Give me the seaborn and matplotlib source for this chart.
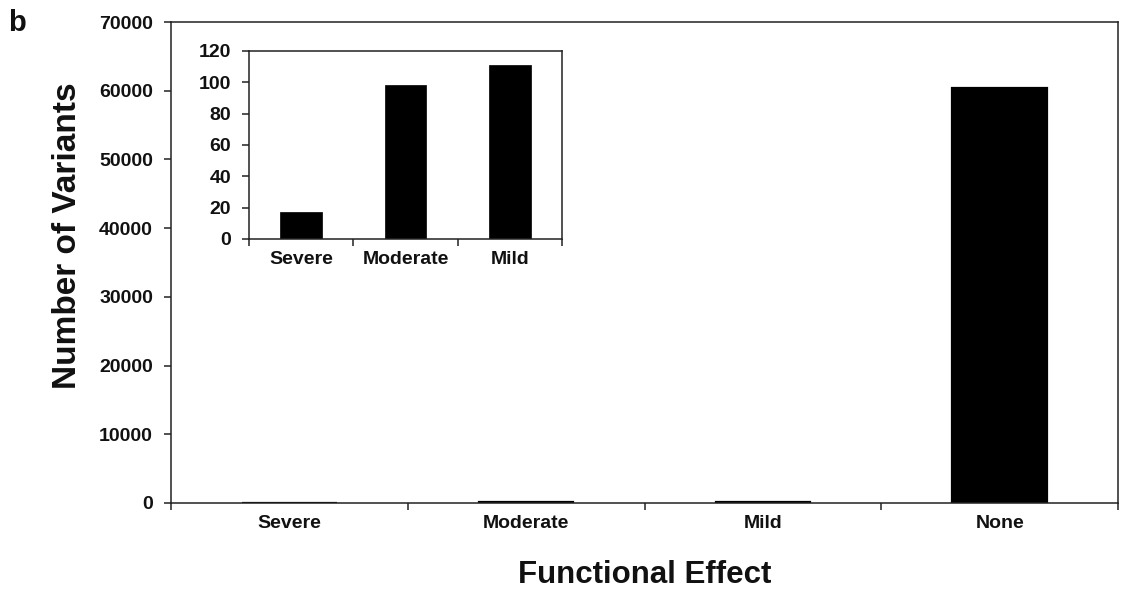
import matplotlib
matplotlib.use("Agg")
import matplotlib.pyplot as plt
import seaborn as sns

# Variant counts by predicted functional effect
categories = ["Severe", "Moderate", "Mild", "None"]
counts = [17, 98, 111, 60400]

# Zoomed view of the three damaging classes
inset_categories = ["Severe", "Moderate", "Mild"]
inset_counts = [17, 98, 111]

main_yticks = [0, 10000, 20000, 30000, 40000, 50000, 60000, 70000]
inset_yticks = [0, 20, 40, 60, 80, 100, 120]

sns.set_theme(style="white")
plt.rcParams["font.family"] = ["Liberation Sans", "DejaVu Sans"]
plt.rcParams["font.weight"] = "bold"

fig = plt.figure(figsize=(11.26, 5.93), dpi=100)
ax = fig.add_axes([0.1519, 0.1518, 0.8410, 0.8111])


def style_axes(a, n, yticks, fs, tick_pad_x, tick_pad_y):
    for s in a.spines.values():
        s.set_visible(True)
        s.set_color("#222222")
        s.set_linewidth(1.1)
    a.set_xlim(-0.5, n - 0.5)
    a.set_ylim(yticks[0], yticks[-1])
    a.set_yticks(yticks)
    a.set_yticklabels([str(v) for v in yticks], fontsize=fs, fontweight="bold")
    a.set_xticks(range(n))
    a.set_xticks([i - 0.5 for i in range(n + 1)], minor=True)
    a.tick_params(axis="x", which="major", length=0, pad=tick_pad_x,
                  labelsize=fs)
    a.tick_params(axis="x", which="minor", length=5, width=1.1,
                  direction="out", color="#222222", bottom=True)
    a.tick_params(axis="y", which="major", length=5, width=1.1,
                  direction="out", color="#222222", pad=tick_pad_y,
                  left=True, labelsize=fs)
    for lbl in a.get_xticklabels() + a.get_yticklabels():
        lbl.set_fontweight("bold")
        lbl.set_color("#111111")


sns.barplot(x=categories, y=counts, color="black", width=0.4,
            saturation=1, edgecolor="black", linewidth=1.6, ax=ax)
style_axes(ax, len(categories), main_yticks, 14, 9, 8)
ax.set_xlabel("Functional Effect", fontsize=22.5, fontweight="bold",
              labelpad=20, color="#111111")
ax.set_ylabel("Number of Variants", fontsize=24, fontweight="bold",
              color="#111111")
ax.yaxis.set_label_coords(-0.093, 0.556)

ins = fig.add_axes([0.2211, 0.5970, 0.2780, 0.3170])
sns.barplot(x=inset_categories, y=inset_counts, color="black", width=0.4,
            saturation=1, edgecolor="black", linewidth=0.5, ax=ins)
style_axes(ins, len(inset_categories), inset_yticks, 14, 9, 8)
ins.set_xlabel("")
ins.set_ylabel("")

fig.text(0.007, 0.985, "b", fontsize=21, fontweight="bold", va="top",
         ha="left", color="#111111")

fig.savefig("out.png", dpi=100)
